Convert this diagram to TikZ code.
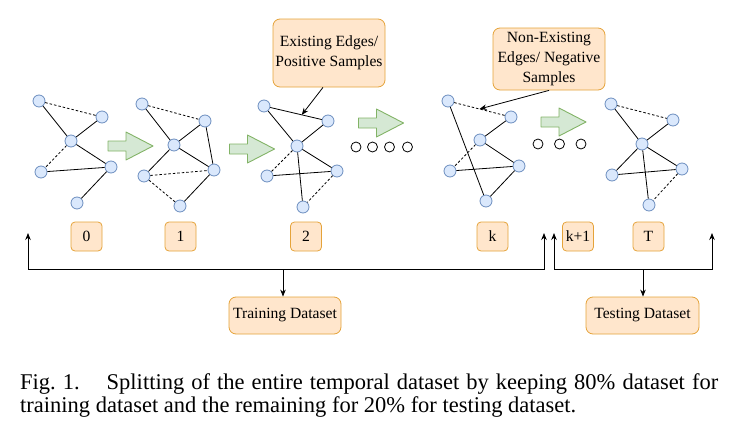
\documentclass[tikz,border=0pt]{standalone}
\usepackage{fontspec}
\setmainfont{Liberation Serif}
\usetikzlibrary{arrows.meta,calc}
\definecolor{vfill}{HTML}{DAE8FC}
\definecolor{vline}{HTML}{6C8EBF}
\definecolor{bfill}{HTML}{FFE6CC}
\definecolor{bline}{HTML}{E5A33A}
\definecolor{afill}{HTML}{D5E8D4}
\definecolor{aline}{HTML}{82B366}
\tikzset{
  pics/fatarrow/.style={code={
    \draw [fill=afill,draw=aline,line width=0.9pt,line join=round]
      (-22.5,-5) -- (-4.5,-5) -- (-4.5,-14) -- (22.5,0) -- (-4.5,14) -- (-4.5,5) -- (-22.5,5) -- cycle;
  }}
}
\begin{document}
\begin{tikzpicture}[x=1pt,y=-1pt,
    vert/.style={circle,fill=vfill,draw=vline,line width=0.8pt,minimum size=12pt,inner sep=0pt},
    edge/.style={line width=0.8pt},
    nonedge/.style={line width=0.8pt,dash pattern=on 2.5pt off 2pt},
    dot/.style={circle,draw,line width=0.8pt,minimum size=10pt,inner sep=0pt},
    lbl/.style={rounded corners=7pt,fill=bfill,draw=bline,line width=0.8pt,align=center,inner sep=2pt,font=\fontsize{15.6}{20}\selectfont},
    stepbox/.style={lbl,rounded corners=4pt,minimum width=31pt,minimum height=29pt},
    link/.style={line width=0.8pt,-{Stealth[length=7pt,width=5.5pt]}}]
  \useasboundingbox (0,0) rectangle (732,439);

  \node[vert] (g0a) at (39,101) {};
  \node[vert] (g0b) at (102,117) {};
  \node[vert] (g0c) at (71,141) {};
  \node[vert] (g0d) at (41,172) {};
  \node[vert] (g0e) at (111,167) {};
  \node[vert] (g0f) at (77,203) {};
  \draw[nonedge] (g0a) -- (g0b) (g0c) -- (g0d);
  \draw[edge] (g0a) -- (g0c) -- (g0b) (g0c) -- (g0e) -- (g0d) (g0e) -- (g0f);

  \node[vert] (g1a) at (142,104) {};
  \node[vert] (g1b) at (205,121) {};
  \node[vert] (g1c) at (174,145) {};
  \node[vert] (g1d) at (144,176) {};
  \node[vert] (g1e) at (214,170) {};
  \node[vert] (g1f) at (180,206) {};
  \draw[nonedge] (g1a) -- (g1b) (g1d) -- (g1e) (g1d) -- (g1f);
  \draw[edge] (g1a) -- (g1c) -- (g1b) -- (g1e) (g1c) -- (g1d) (g1c) -- (g1e) -- (g1f);

  \node[vert] (g2a) at (264,106) {};
  \node[vert] (g2b) at (328,121) {};
  \node[vert] (g2c) at (297,146) {};
  \node[vert] (g2d) at (267,176) {};
  \node[vert] (g2e) at (337,171) {};
  \node[vert] (g2f) at (303,207) {};
  \draw[nonedge] (g2c) -- (g2d) (g2e) -- (g2f);
  \draw[edge] (g2a) -- (g2b) -- (g2c) -- (g2a) (g2d) -- (g2e) -- (g2c) -- (g2f);

  \node[vert] (gka) at (448,101) {};
  \node[vert] (gkb) at (511,117) {};
  \node[vert] (gkc) at (480,140) {};
  \node[vert] (gkd) at (450,171) {};
  \node[vert] (gke) at (519,166) {};
  \node[vert] (gkf) at (486,201) {};
  \draw[nonedge] (gka) -- (gkb) (gkc) -- (gkd);
  \draw[edge] (gka) -- (gkf) -- (gke) -- (gkc) -- (gkb) (gkd) -- (gke);

  \node[vert] (gta) at (611,104) {};
  \node[vert] (gtb) at (673,120) {};
  \node[vert] (gtc) at (642,144) {};
  \node[vert] (gtd) at (612,175) {};
  \node[vert] (gte) at (682,169) {};
  \node[vert] (gtf) at (649,205) {};
  \draw[nonedge] (gta) -- (gtb) (gte) -- (gtf);
  \draw[edge] (gta) -- (gtc) -- (gtb) (gtc) -- (gtd) -- (gte) -- (gtc) -- (gtf);

  \pic at (130.5,146) {fatarrow};
  \pic at (252,149) {fatarrow};
  \pic at (381,123) {fatarrow};
  \pic at (563.5,122) {fatarrow};

  \node[dot] (d1) at (356,147) {};
  \node[dot] (d2) at (372.5,147) {};
  \node[dot] (d3) at (389.5,147) {};
  \node[dot] (d4) at (407.5,147) {};
  \node[dot] (d5) at (538,144) {};
  \node[dot] (d6) at (559.5,144) {};
  \node[dot] (d7) at (581,144) {};

  \node[lbl,minimum width=112pt,minimum height=68pt] (pos) at (329,53) {Existing Edges/\\Positive Samples};
  \node[lbl,minimum width=112pt,minimum height=62pt] (neg) at (549,59) {Non-Existing\\Edges/ Negative\\Samples};
  \draw[link] (pos.south) ++(-6,0) -- ($(g2a)!0.59!(g2b)$);
  \draw[link] (neg.south) -- ($(gka)!0.5!(gkb)$);

  \node[stepbox] (s0) at (86.5,236.5) {0};
  \node[stepbox] (s1) at (180.5,236.5) {1};
  \node[stepbox] (s2) at (306,236.5) {2};
  \node[stepbox] (sk) at (492.5,236.5) {k};
  \node[stepbox] (sk1) at (578,236.5) {k+1};
  \node[stepbox] (st) at (648.5,236.5) {T};

  \node[lbl,minimum width=112pt,minimum height=37pt] (train) at (285,315.5) {Training Dataset};
  \node[lbl,minimum width=113pt,minimum height=37pt] (test) at (642.5,315.5) {Testing Dataset};

  \coordinate (trl) at (28,233);
  \coordinate (trr) at (544,233);
  \coordinate (tel) at (554,233);
  \coordinate (ter) at (712,233);
  \coordinate (trmid) at (283,269);
  \coordinate (temid) at (643,269);
  \draw[link,{Stealth[length=7pt,width=5.5pt]}-{Stealth[length=7pt,width=5.5pt]}] (trl) -- ++(0,36) -| (trr);
  \draw[link,{Stealth[length=7pt,width=5.5pt]}-{Stealth[length=7pt,width=5.5pt]}] (tel) -- ++(0,36) -| (ter);
  \draw[link] (trmid) -- (trmid |- train.north);
  \draw[link] (temid) -- (temid |- test.north);

  \node[anchor=base west,inner sep=0pt,font=\fontsize{22.5}{23.5}\selectfont] (cap1) at (20,389)
    {\makebox[698pt][s]{Fig.~1.\hspace{1.2em}Splitting of the entire temporal dataset by keeping 80\% dataset for}};
  \node[anchor=base west,inner sep=0pt,font=\fontsize{22.5}{23.5}\selectfont] (cap2) at (20,412.5)
    {training dataset and the remaining for 20\% for testing dataset.};
\end{tikzpicture}
\end{document}
